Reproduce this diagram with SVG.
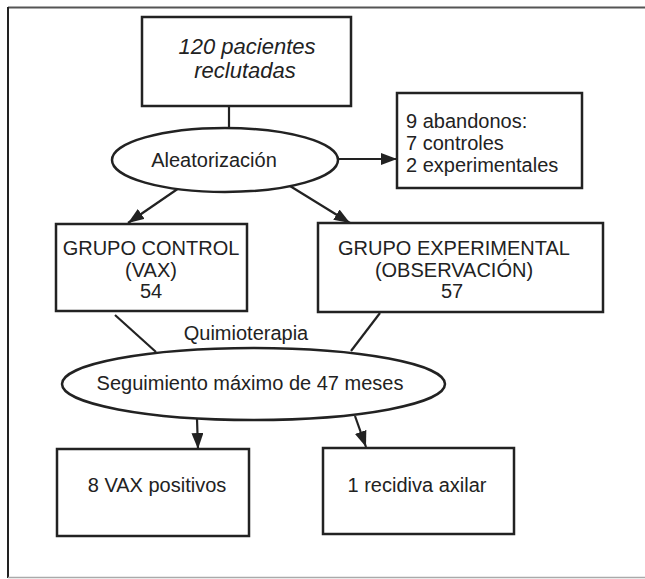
<svg xmlns="http://www.w3.org/2000/svg" width="645" height="579" viewBox="0 0 645 579">
<style>
.box{fill:#fff;stroke:#222;stroke-width:2.5}
.ell{fill:#fff;stroke:#222;stroke-width:2.5}
.t{font-family:"Liberation Sans",Arial,sans-serif;font-size:20px;fill:#222}
.c{text-anchor:middle}
.it{font-style:italic;font-size:22px}
.ln{stroke:#222;stroke-width:2.2;fill:none}
.ar{marker-end:url(#ah)}
</style>
<defs>
<marker id="ah" markerUnits="userSpaceOnUse" markerWidth="16" markerHeight="12" refX="16" refY="6" orient="auto">
<path d="M0,0 L16,6 L0,12 z" fill="#222"/>
</marker>
</defs>
<rect width="645" height="579" fill="#fff"/>
<g id="frame">
<line x1="8" y1="7.5" x2="645" y2="7.5" stroke="#555" stroke-width="2"/>
<line x1="8" y1="7" x2="8" y2="578" stroke="#222" stroke-width="2"/>
<line x1="8" y1="577.5" x2="645" y2="577.5" stroke="#aaa" stroke-width="1.5"/>
</g>
<g id="connectors">
<line class="ln" x1="229" y1="106" x2="229" y2="129"/>
<line class="ln ar" x1="338" y1="159" x2="397" y2="159"/>
<line class="ln ar" x1="179" y1="188" x2="128" y2="223"/>
<line class="ln ar" x1="290" y1="186" x2="350" y2="223"/>
<line class="ln" x1="115" y1="315" x2="156" y2="352"/>
<line class="ln" x1="380" y1="313" x2="351" y2="351"/>
<line class="ln ar" x1="197" y1="419" x2="198" y2="449"/>
<line class="ln ar" x1="355" y1="416" x2="366" y2="447"/>
</g>
<g id="reclutadas">
<rect class="box" x="142" y="17" width="209" height="89"/>
<text class="t c it" x="247" y="54">120 pacientes</text>
<text class="t c it" x="245" y="78">reclutadas</text>
</g>
<g id="aleatorizacion">
<ellipse class="ell" cx="225" cy="160" rx="113" ry="32"/>
<text class="t c" x="214" y="167">Aleatorización</text>
</g>
<g id="abandonos">
<rect class="box" x="397" y="93" width="185" height="95"/>
<text class="t" x="406" y="128">9 abandonos:</text>
<text class="t" x="406" y="150">7 controles</text>
<text class="t" x="406" y="172">2 experimentales</text>
</g>
<g id="control">
<rect class="box" x="56" y="224" width="191" height="87"/>
<text class="t c" x="151" y="255" font-size="19">GRUPO CONTROL</text>
<text class="t c" x="151" y="277">(VAX)</text>
<text class="t c" x="151" y="298">54</text>
</g>
<g id="experimental">
<rect class="box" x="318" y="223" width="285" height="89"/>
<text class="t c" x="454" y="255" font-size="19">GRUPO EXPERIMENTAL</text>
<text class="t c" x="454" y="277" font-size="19">(OBSERVACIÓN)</text>
<text class="t c" x="452" y="298">57</text>
</g>
<g id="quimioterapia">
<text class="t c" x="246" y="340">Quimioterapia</text>
</g>
<g id="seguimiento">
<ellipse class="ell" cx="253.5" cy="384" rx="191.5" ry="36"/>
<text class="t c" x="250" y="390">Seguimiento máximo de 47 meses</text>
</g>
<g id="vax-positivos">
<rect class="box" x="57" y="449" width="192" height="87"/>
<text class="t c" x="157" y="492">8 VAX positivos</text>
</g>
<g id="recidiva">
<rect class="box" x="323" y="448" width="191" height="86"/>
<text class="t c" x="417" y="492">1 recidiva axilar</text>
</g>
</svg>
